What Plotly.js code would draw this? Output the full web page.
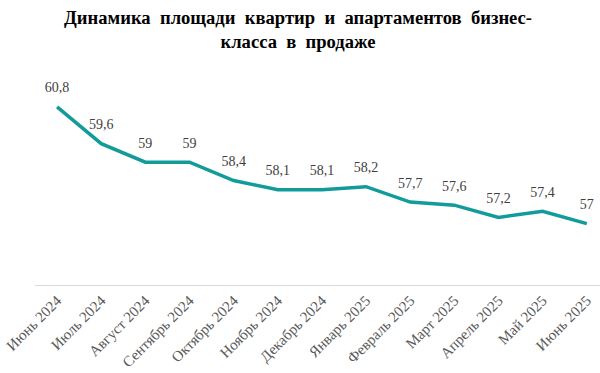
<!DOCTYPE html>
<html>
<head>
<meta charset="utf-8">
<script src="https://cdn.plot.ly/plotly-3.0.1.min.js"></script>
<style>html,body{margin:0;padding:0;background:#fff;}#chart{width:600px;height:373px;}</style>
</head>
<body>
<div id="chart"></div>
<script>
const months = ["Июнь 2024","Июль 2024","Август 2024","Сентябрь 2024","Октябрь 2024","Ноябрь 2024","Декабрь 2024","Январь 2025","Февраль 2025","Март 2025","Апрель 2025","Май 2025","Июнь 2025"];
const areas = [60.8, 59.6, 59, 59, 58.4, 58.1, 58.1, 58.2, 57.7, 57.6, 57.2, 57.4, 57];
const labels = areas.map(v => String(v).replace('.', ','));
const titleText = "Динамика  площади  квартир  и  апартаментов  бизнес-<br>класса  в  продаже";

const serif = "Liberation Serif, Times New Roman, serif";
const trace = {
  x: months.map((m, i) => i),
  y: areas,
  type: 'scatter',
  mode: 'lines+markers+text',
  text: labels,
  textposition: 'top center',
  textfont: {family: serif, size: 14, color: '#404040'},
  line: {color: '#129B9B', width: 3.5},
  marker: {size: 16, color: 'rgba(0,0,0,0)'},
  hoverinfo: 'skip',
  cliponaxis: false
};
const layout = {
  width: 600, height: 373,
  margin: {l: 35, r: 0, t: 70, b: 88},
  paper_bgcolor: '#fff', plot_bgcolor: '#fff',
  showlegend: false,
  annotations: [{
    text: titleText, xref: 'paper', yref: 'paper', x: (298 - 35) / 565, y: (285 - 5) / 215,
    xanchor: 'center', yanchor: 'top', showarrow: false, align: 'center',
    font: {family: serif, size: 18.6, color: '#000', weight: 'bold'}
  }],
  xaxis: {
    tickmode: 'array', tickvals: months.map((m, i) => i), ticktext: months,
    range: [-0.5, 12.3], tickangle: -45,
    tickfont: {family: serif, size: 15, color: '#595959'},
    showgrid: false, zeroline: false, showline: true, linecolor: '#d9d9d9', linewidth: 1,
    ticks: '', fixedrange: true
  },
  yaxis: {range: [55, 62], visible: false, showgrid: false, zeroline: false, fixedrange: true}
};
Plotly.newPlot('chart', [trace], layout, {displayModeBar: false, staticPlot: true});
</script>
</body>
</html>
